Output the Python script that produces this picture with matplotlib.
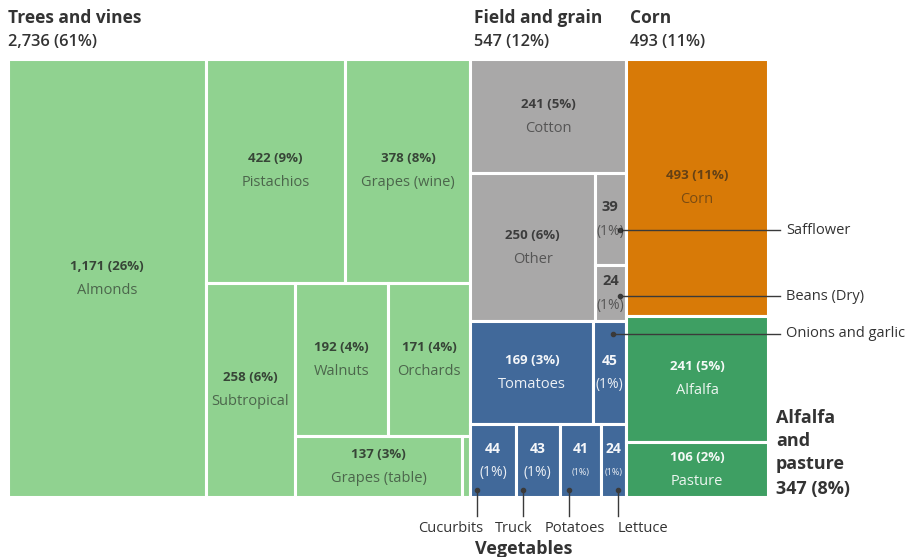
import matplotlib.pyplot as plt
from matplotlib.patches import Rectangle

plt.rcParams['font.family'] = ['Open Sans', 'DejaVu Sans']

# group headers
group_names = ['Trees and vines', 'Field and grain', 'Corn', 'Alfalfa and pasture']
group_totals = ['2,736 (61%)', '547 (12%)', '493 (11%)', '347 (8%)']

trees_labels = ['Almonds', 'Pistachios', 'Grapes (wine)', 'Subtropical', 'Walnuts',
                'Orchards', 'Grapes (table)', '']
trees_values = [1171, 422, 378, 258, 192, 171, 137, 7]
trees_pct = ['26%', '9%', '8%', '6%', '4%', '4%', '3%', '']

field_labels = ['Cotton', 'Other', 'Safflower', 'Beans (Dry)']
field_values = [241, 250, 39, 24]
field_pct = ['5%', '6%', '1%', '1%']

veg_labels = ['Tomatoes', 'Onions and garlic', 'Cucurbits', 'Truck', 'Potatoes', 'Lettuce']
veg_values = [169, 45, 44, 43, 41, 24]
veg_pct = ['3%', '1%', '1%', '1%', '1%', '1%']

corn_values = [493]
alfalfa_labels = ['Alfalfa', 'Pasture']
alfalfa_values = [241, 106]
alfalfa_pct = ['5%', '2%']

c_trees = '#90d290'
c_field = '#a9a8a8'
c_veg = '#41699a'
c_corn = '#d87a07'
c_alf = '#3e9f63'

W, H = 911, 557
fig = plt.figure(figsize=(W / 100, H / 100), dpi=100)
L, T, R, B = 8, 59, 768, 497
ax = fig.add_axes([L / W, 1 - B / H, (R - L) / W, (B - T) / H])
ax.set_xlim(0, 1)
ax.set_ylim(1, 0)
ax.axis('off')


def px(x, y):
    return (x - L) / (R - L), (y - T) / (B - T)


def split(rect, values, horizontal):
    x, y, w, h = rect
    tot = float(sum(values))
    out, pos = [], 0.0
    for v in values:
        f = v / tot
        if horizontal:
            out.append((x + pos * w, y, f * w, h))
        else:
            out.append((x, y + pos * h, w, f * h))
        pos += f
    return out


def box(r, color):
    ax.add_patch(Rectangle((r[0], r[1]), r[2], r[3], facecolor=color,
                           edgecolor='white', linewidth=2.2))


dy = 12 / (B - T)


def label(r, top, bottom, dark=True, size=9.5, small=10.5, a=(0.78, 0.6)):
    cx = r[0] + r[2] / 2
    cy = r[1] + r[3] / 2
    col = '#1e1e1e' if dark else 'white'
    a1, a2 = a if dark else (0.95, 0.9)
    ax.text(cx, cy - dy, top, ha='center', va='center', fontsize=size,
            fontweight='bold', color=col, alpha=a1)
    ax.text(cx, cy + dy, bottom, ha='center', va='center',
            fontsize=small, color=col, alpha=a2)


cols = split((0, 0, 1, 1), [sum(trees_values), sum(field_values) + sum(veg_values),
                            corn_values[0] + sum(alfalfa_values)], True)

# trees and vines
tv = trees_values
almonds, rest = split(cols[0], [tv[0], sum(tv[1:])], True)
top, bottom = split(rest, [tv[1] + tv[2], sum(tv[3:])], False)
pist, wine = split(top, tv[1:3], True)
sub, rest2 = split(bottom, [tv[3], sum(tv[4:])], True)
upper, lower = split(rest2, [tv[4] + tv[5], tv[6] + tv[7]], False)
wal, orch = split(upper, tv[4:6], True)
table, toth = split(lower, tv[6:8], True)
trees_rects = [almonds, pist, wine, sub, wal, orch, table, toth]
for i, r in enumerate(trees_rects):
    box(r, c_trees)
    if trees_labels[i]:
        label(r, '{:,} ({})'.format(tv[i], trees_pct[i]), trees_labels[i])

# field and grain / vegetables
fv = field_values
field, veg = split(cols[1], [547, sum(veg_values)], False)
cotton, frest = split(field, [fv[0], sum(fv[1:])], False)
fother, fsmall = split(frest, [fv[1], fv[2] + fv[3]], True)
saff, beans = split(fsmall, fv[2:4], False)
field_rects = [cotton, fother, saff, beans]
for i, r in enumerate(field_rects):
    box(r, c_field)
    if i < 2:
        label(r, '{} ({})'.format(fv[i], field_pct[i]), field_labels[i])
    else:
        label(r, str(fv[i]), '({})'.format(field_pct[i]), size=10.5, small=10)

vv = veg_values
vtop, vbot = split(veg, [vv[0] + vv[1], sum(vv[2:])], False)
tom, onion = split(vtop, vv[0:2], True)
veg_rects = [tom, onion] + split(vbot, vv[2:], True)
for i, r in enumerate(veg_rects):
    box(r, c_veg)
    if i == 0:
        label(r, '{} ({})'.format(vv[i], veg_pct[i]), veg_labels[i], dark=False)
    elif i < 4:
        label(r, str(vv[i]), '({})'.format(veg_pct[i]), dark=False, size=10, small=10)
    else:
        label(r, str(vv[i]), '({})'.format(veg_pct[i]), dark=False, size=10, small=6.5)

# corn / alfalfa and pasture
corn, alf = split(cols[2], [corn_values[0], sum(alfalfa_values)], False)
box(corn, c_corn)
label(corn, '493 (11%)', 'Corn', a=(0.62, 0.5))
alf_rects = split(alf, alfalfa_values, False)
for i, r in enumerate(alf_rects):
    box(r, c_alf)
    label(r, '{} ({})'.format(alfalfa_values[i], alfalfa_pct[i]), alfalfa_labels[i],
          dark=False)

# headers
hc = '#333333'
for x0, i in [(8, 0), (474, 1), (630, 2)]:
    ax.text(*px(x0, 18), group_names[i], ha='left', va='center', fontsize=12.5,
            fontweight='bold', color=hc, clip_on=False)
    ax.text(*px(x0, 42), group_totals[i], ha='left', va='center', fontsize=11.8,
            fontweight='semibold', color=hc, clip_on=False)
for yy, t in zip([418, 441, 464, 489], ['Alfalfa', 'and', 'pasture', group_totals[3]]):
    ax.text(*px(776, yy), t, ha='left', va='center', fontsize=13,
            fontweight='bold', color=hc, clip_on=False)
ax.text(*px(524, 549), 'Vegetables', ha='center', va='center', fontsize=13,
        fontweight='bold', color=hc, clip_on=False)

# callouts on the right
lc = '#3a3a3a'
for r, fx, fy, t in [(saff, 0.8, 0.62, 'Safflower'),
                     (beans, 0.8, 0.55, 'Beans (Dry)'),
                     (onion, 0.6, 0.12, 'Onions and garlic')]:
    dx_, dy_ = r[0] + fx * r[2], r[1] + fy * r[3]
    ax.plot([dx_], [dy_], 'o', ms=3, color=lc, clip_on=False)
    ax.plot([dx_, px(780, 0)[0]], [dy_, dy_], color=lc, lw=1, clip_on=False)
    ax.text(px(786, 0)[0], dy_, t, ha='left', va='center', fontsize=10.5,
            color=hc, clip_on=False)

# callouts below vegetables
for r, off, lx, t in [(veg_rects[2], 7, 451, 'Cucurbits'),
                      (veg_rects[3], 7, 514, 'Truck'),
                      (veg_rects[4], 9, 575, 'Potatoes'),
                      (veg_rects[5], 17, 643, 'Lettuce')]:
    dx_ = r[0] + off / (R - L)
    dy_ = px(0, 490)[1]
    ax.plot([dx_], [dy_], 'o', ms=3, color=lc, clip_on=False)
    ax.plot([dx_, dx_], [dy_, px(0, 516)[1]], color=lc, lw=1, clip_on=False)
    ax.text(*px(lx, 528), t, ha='center', va='center', fontsize=10.5,
            color=hc, clip_on=False)

fig.savefig('out.png', dpi=100, facecolor='white')
